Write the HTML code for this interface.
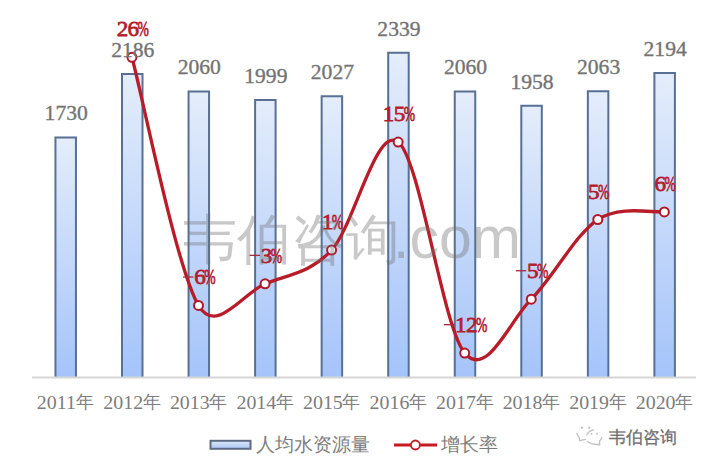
<!DOCTYPE html>
<html><head><meta charset="utf-8"><style>
html,body{margin:0;padding:0;background:#fff;}
svg{display:block;}
.val{font-family:"Liberation Serif",serif;font-size:21.6px;fill:#737373;stroke:#737373;stroke-width:0.35px;text-anchor:middle;}
.xl{font-family:"Liberation Serif",serif;font-size:18.6px;fill:#7c7c7c;}
.xlc{font-family:"Liberation Serif",serif;font-size:18px;fill:#808080;}
.xl2{}
.pct{font-family:"Liberation Serif",serif;font-size:22.0px;fill:#b41c2e;stroke:#b41c2e;stroke-width:0.75px;}
.wm{font-family:"Liberation Sans",sans-serif;font-size:54px;fill:rgba(110,110,110,0.38);}
.wm2{font-family:"Liberation Sans",sans-serif;font-size:59px;fill:rgba(110,110,110,0.38);}
.lg{font-family:"Liberation Sans",sans-serif;font-size:19px;fill:#7d7d7d;}
</style></head><body>
<svg width="727" height="468" viewBox="0 0 727 468">
<defs><linearGradient id="bg" x1="0" y1="0" x2="0" y2="1"><stop offset="0" stop-color="#e4edfb"/><stop offset="1" stop-color="#a5c4fa"/></linearGradient>
<linearGradient id="lgg" x1="0" y1="0" x2="0" y2="1"><stop offset="0" stop-color="#dfe9f8"/><stop offset="1" stop-color="#a6c4f5"/></linearGradient></defs>
<rect x="55.45" y="137.38" width="20.50" height="239.62" fill="url(#bg)"/><path d="M55.45,377.00 V137.38 H75.95 V377.00" fill="none" stroke="#587094" stroke-width="2"/>
<rect x="122.00" y="74.08" width="20.50" height="302.92" fill="url(#bg)"/><path d="M122.00,377.00 V74.08 H142.50 V377.00" fill="none" stroke="#587094" stroke-width="2"/>
<rect x="188.55" y="91.57" width="20.50" height="285.43" fill="url(#bg)"/><path d="M188.55,377.00 V91.57 H209.05 V377.00" fill="none" stroke="#587094" stroke-width="2"/>
<rect x="255.10" y="100.04" width="20.50" height="276.96" fill="url(#bg)"/><path d="M255.10,377.00 V100.04 H275.60 V377.00" fill="none" stroke="#587094" stroke-width="2"/>
<rect x="321.65" y="96.15" width="20.50" height="280.85" fill="url(#bg)"/><path d="M321.65,377.00 V96.15 H342.15 V377.00" fill="none" stroke="#587094" stroke-width="2"/>
<rect x="388.20" y="52.85" width="20.50" height="324.15" fill="url(#bg)"/><path d="M388.20,377.00 V52.85 H408.70 V377.00" fill="none" stroke="#587094" stroke-width="2"/>
<rect x="454.75" y="91.57" width="20.50" height="285.43" fill="url(#bg)"/><path d="M454.75,377.00 V91.57 H475.25 V377.00" fill="none" stroke="#587094" stroke-width="2"/>
<rect x="521.30" y="105.73" width="20.50" height="271.27" fill="url(#bg)"/><path d="M521.30,377.00 V105.73 H541.80 V377.00" fill="none" stroke="#587094" stroke-width="2"/>
<rect x="587.85" y="91.16" width="20.50" height="285.84" fill="url(#bg)"/><path d="M587.85,377.00 V91.16 H608.35 V377.00" fill="none" stroke="#587094" stroke-width="2"/>
<rect x="654.40" y="72.97" width="20.50" height="304.03" fill="url(#bg)"/><path d="M654.40,377.00 V72.97 H674.90 V377.00" fill="none" stroke="#587094" stroke-width="2"/>
<rect x="32" y="376.5" width="664" height="2" fill="#d6d6d6"/>
<text class="xl" transform="translate(36.80,408.5) scale(1.07,1)">2011</text><text class="xlc" x="76.20" y="407.7">年</text>
<text class="xl" transform="translate(103.35,408.5) scale(1.07,1)">2012</text><text class="xlc" x="142.75" y="407.7">年</text>
<text class="xl" transform="translate(169.90,408.5) scale(1.07,1)">2013</text><text class="xlc" x="209.30" y="407.7">年</text>
<text class="xl" transform="translate(236.45,408.5) scale(1.07,1)">2014</text><text class="xlc" x="275.85" y="407.7">年</text>
<text class="xl" transform="translate(303.00,408.5) scale(1.07,1)">2015</text><text class="xlc" x="342.40" y="407.7">年</text>
<text class="xl" transform="translate(369.55,408.5) scale(1.07,1)">2016</text><text class="xlc" x="408.95" y="407.7">年</text>
<text class="xl" transform="translate(436.10,408.5) scale(1.07,1)">2017</text><text class="xlc" x="475.50" y="407.7">年</text>
<text class="xl" transform="translate(502.65,408.5) scale(1.07,1)">2018</text><text class="xlc" x="542.05" y="407.7">年</text>
<text class="xl" transform="translate(569.20,408.5) scale(1.07,1)">2019</text><text class="xlc" x="608.60" y="407.7">年</text>
<text class="xl" transform="translate(635.75,408.5) scale(1.07,1)">2020</text><text class="xlc" x="675.15" y="407.7">年</text>
<path d="M131.95,57.30 C143.04,98.66 176.32,267.72 198.50,305.47 C216.23,335.64 242.87,293.04 265.05,283.82 C287.23,274.59 309.42,273.75 331.60,250.12 C353.78,226.49 375.97,124.86 398.15,142.02 C420.33,159.18 442.52,326.90 464.70,353.10 C486.88,379.29 509.07,321.46 531.25,299.19 C553.43,276.93 575.62,234.06 597.80,219.51 C619.98,204.96 653.26,213.15 664.35,211.88" fill="none" stroke="#b81c28" stroke-width="3.3" stroke-linecap="round"/>
<circle cx="131.95" cy="57.30" r="4.5" fill="#fff" stroke="#b0182a" stroke-width="2"/>
<circle cx="198.50" cy="305.47" r="4.5" fill="#fff" stroke="#b0182a" stroke-width="2"/>
<circle cx="265.05" cy="283.82" r="4.5" fill="#fff" stroke="#b0182a" stroke-width="2"/>
<circle cx="331.60" cy="250.12" r="4.5" fill="#fff" stroke="#b0182a" stroke-width="2"/>
<circle cx="398.15" cy="142.02" r="4.5" fill="#fff" stroke="#b0182a" stroke-width="2"/>
<circle cx="464.70" cy="353.10" r="4.5" fill="#fff" stroke="#b0182a" stroke-width="2"/>
<circle cx="531.25" cy="299.19" r="4.5" fill="#fff" stroke="#b0182a" stroke-width="2"/>
<circle cx="597.80" cy="219.51" r="4.5" fill="#fff" stroke="#b0182a" stroke-width="2"/>
<circle cx="664.35" cy="211.88" r="4.5" fill="#fff" stroke="#b0182a" stroke-width="2"/>
<text class="pct" transform="translate(116.65,36.30) scale(1.05,1)" letter-spacing="-0.6">26</text><text class="pct" transform="translate(137.55,36.30) scale(0.62,1)">%</text>
<rect x="183.05" y="276.37" width="10.4" height="1.3" fill="#a82a3a"/><text class="pct" transform="translate(194.25,284.47) scale(1.05,1)" letter-spacing="-0.6">6</text><text class="pct" transform="translate(204.25,284.47) scale(0.62,1)">%</text>
<rect x="249.60" y="254.72" width="10.4" height="1.3" fill="#a82a3a"/><text class="pct" transform="translate(260.80,262.82) scale(1.05,1)" letter-spacing="-0.6">3</text><text class="pct" transform="translate(270.80,262.82) scale(0.62,1)">%</text>
<text class="pct" transform="translate(321.75,229.12) scale(1.05,1)" letter-spacing="-0.6">1</text><text class="pct" transform="translate(331.75,229.12) scale(0.62,1)">%</text>
<text class="pct" transform="translate(382.85,121.02) scale(1.05,1)" letter-spacing="-0.6">15</text><text class="pct" transform="translate(403.75,121.02) scale(0.62,1)">%</text>
<rect x="443.80" y="324.00" width="10.4" height="1.3" fill="#a82a3a"/><text class="pct" transform="translate(455.00,332.10) scale(1.05,1)" letter-spacing="-0.6">12</text><text class="pct" transform="translate(475.90,332.10) scale(0.62,1)">%</text>
<rect x="515.80" y="270.09" width="10.4" height="1.3" fill="#a82a3a"/><text class="pct" transform="translate(527.00,278.19) scale(1.05,1)" letter-spacing="-0.6">5</text><text class="pct" transform="translate(537.00,278.19) scale(0.62,1)">%</text>
<text class="pct" transform="translate(587.95,198.51) scale(1.05,1)" letter-spacing="-0.6">5</text><text class="pct" transform="translate(597.95,198.51) scale(0.62,1)">%</text>
<text class="pct" transform="translate(654.50,190.88) scale(1.05,1)" letter-spacing="-0.6">6</text><text class="pct" transform="translate(664.50,190.88) scale(0.62,1)">%</text>
<text x="66.20" y="120.18" class="val">1730</text>
<text x="132.75" y="56.88" class="val">2186</text>
<text x="199.30" y="74.37" class="val">2060</text>
<text x="265.85" y="82.84" class="val">1999</text>
<text x="332.40" y="78.95" class="val">2027</text>
<text x="398.95" y="35.65" class="val">2339</text>
<text x="465.50" y="74.37" class="val">2060</text>
<text x="532.05" y="88.53" class="val">1958</text>
<text x="598.60" y="73.96" class="val">2063</text>
<text x="665.15" y="55.77" class="val">2194</text>
<text x="183" y="258.3" class="wm" letter-spacing="0.2">韦伯咨询</text><text x="393.1" y="257.5" class="wm2">.com</text>
<rect x="210.5" y="440.8" width="40" height="8" fill="url(#lgg)" stroke="#5d6c84" stroke-width="2"/>
<text x="256" y="451" class="lg">人均水资源量</text>
<line x1="394" y1="445" x2="437" y2="445" stroke="#c41a24" stroke-width="3"/>
<circle cx="415.4" cy="445" r="4.5" fill="#fff" stroke="#c41a24" stroke-width="1.8"/>
<text x="441" y="451" class="lg">增长率</text>
<g fill="none" stroke="#9a9a9a" stroke-width="1.3" stroke-linecap="round" opacity="0.6">
<path d="M576.8,433.3 Q577.5,436 579.3,437.6 L579.6,440.6 L585.5,439.3"/>
<path d="M586.7,435 Q588.5,431 593.5,429.8"/>
<path d="M587.4,441.6 Q592,445.2 599,444.3 L599.6,445.6 L599.6,441.2 Q601,439.5 601.8,437.5"/>
</g>
<g fill="#8a8a8a" opacity="0.65"><circle cx="581.9" cy="427.7" r="1"/><circle cx="589.3" cy="427.7" r="1"/><circle cx="591.6" cy="433.8" r="0.9"/><circle cx="597" cy="433.8" r="0.9"/></g>
<text x="609" y="443" class="lg" style="font-size:16.5px;fill:#6f6f6f;stroke:#6f6f6f;stroke-width:0.3px">韦伯咨询</text>
</svg>
</body></html>
